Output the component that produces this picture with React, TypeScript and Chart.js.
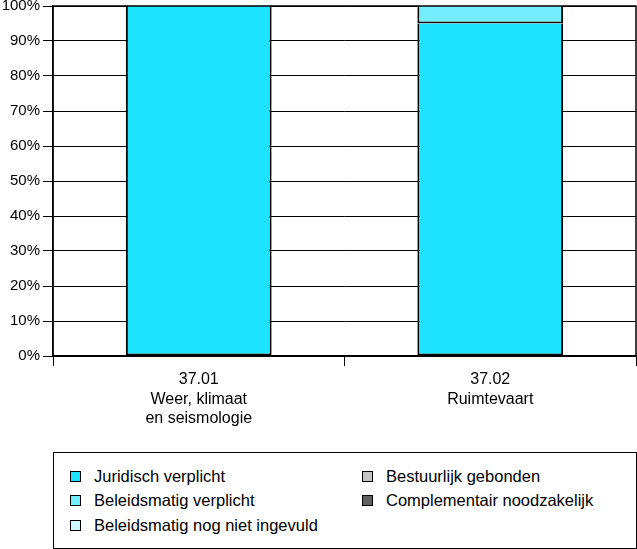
import React, { useEffect, useRef } from "react";
import { Chart, registerables } from "chart.js";

Chart.register(...registerables);

const categories: string[][] = [
  ["37.01", "Weer, klimaat", "en seismologie"],
  ["37.02", "Ruimtevaart"],
];
const seriesNames = [
  "Juridisch verplicht",
  "Beleidsmatig verplicht",
  "Beleidsmatig nog niet ingevuld",
  "Bestuurlijk gebonden",
  "Complementair noodzakelijk",
];
const juridisch = [100, 95];
const beleidsmatig = [0, 5];
const nogNiet = [0, 0];
const bestuurlijk = [0, 0];
const complementair = [0, 0];
const seriesValues = [juridisch, beleidsmatig, nogNiet, bestuurlijk, complementair];
const seriesColors = ["#1ee3ff", "#74edff", "#cdf7ff", "#c4c4c4", "#606060"];
const yTicks = [0, 10, 20, 30, 40, 50, 60, 70, 80, 90, 100];

const FONT = "'Liberation Sans', Arial, sans-serif";
const W = 637;
const CH = 445;

const frame = {
  id: "frame",
  afterDatasetsDraw(chart: any) {
    const { ctx, chartArea: a } = chart;
    ctx.save();
    ctx.strokeStyle = "#000";
    ctx.lineWidth = 1.5;
    ctx.strokeRect(a.left, a.top, a.right - a.left, a.bottom - a.top);
    ctx.restore();
  },
};

export default function App() {
  const ref = useRef<HTMLCanvasElement>(null);
  useEffect(() => {
    const chart = new Chart(ref.current!, {
      type: "bar",
      data: {
        labels: categories,
        datasets: seriesNames.map((name, i) => ({
          label: name,
          data: seriesValues[i],
          backgroundColor: seriesColors[i],
          borderColor: "#000",
          borderWidth: (c: any) => (c.raw ? 2 : 0),
          borderSkipped: "top",
          categoryPercentage: 0.5,
          barPercentage: 1,
        })),
      },
      options: {
        animation: false,
        responsive: false,
        maintainAspectRatio: false,
        layout: { padding: { top: 6, right: 1, left: 0, bottom: 0 } },
        plugins: { legend: { display: false }, tooltip: { enabled: false } },
        scales: {
          x: {
            stacked: true,
            grid: {
              offset: true,
              drawOnChartArea: false,
              tickLength: 10,
              color: "#000",
              lineWidth: 1,
            },
            border: { color: "#000", width: 1.5 },
            ticks: {
              color: "#000",
              font: { family: FONT, size: 16, lineHeight: 1.22 },
              padding: 4,
              maxRotation: 0,
              autoSkip: false,
            },
            afterFit(scale: any) {
              scale.height = CH - 356;
              scale.paddingLeft = 0;
              scale.paddingRight = 0;
            },
          },
          y: {
            stacked: true,
            min: 0,
            max: 100,
            afterBuildTicks(scale: any) {
              scale.ticks = yTicks.map((v) => ({ value: v }));
            },
            grid: { color: "#000", lineWidth: 1, tickLength: 10 },
            border: { color: "#000", width: 1.5 },
            ticks: {
              color: "#000",
              font: { family: FONT, size: 15 },
              padding: 3,
              callback: (v: any) => v + "%",
            },
            afterFit(scale: any) {
              scale.width = 53;
              scale.paddingTop = 0;
              scale.paddingBottom = 0;
            },
          },
        },
      },
      plugins: [frame],
    });
    return () => chart.destroy();
  }, []);

  const legendOrder = [
    [0, 0, 0],
    [1, 0, 1],
    [2, 0, 2],
    [3, 1, 0],
    [4, 1, 1],
  ];
  const colX = [70, 362];
  const rowY = [476, 500, 525];

  return (
    <div style={{ position: "absolute", left: 0, top: 0, width: W, height: 549, background: "#fff" }}>
      <canvas ref={ref} width={W} height={CH} style={{ position: "absolute", left: 0, top: 0 }} />
      <div
        style={{
          position: "absolute",
          left: 53,
          top: 452,
          width: 584,
          height: 97,
          border: "1.5px solid #000",
          boxSizing: "border-box",
        }}
      />
      {legendOrder.map(([si, c, r]) => (
        <div
          key={si}
          style={{
            position: "absolute",
            left: colX[c],
            top: rowY[r] - 10,
            height: 20,
            display: "flex",
            alignItems: "center",
            fontFamily: FONT,
            fontSize: 16.5,
            color: "#000",
            whiteSpace: "nowrap",
          }}
        >
          <span
            style={{
              display: "inline-block",
              width: 11,
              height: 11,
              boxSizing: "border-box",
              border: "1.5px solid #000",
              background: seriesColors[si],
              marginRight: 13,
            }}
          />
          {seriesNames[si]}
        </div>
      ))}
    </div>
  );
}
